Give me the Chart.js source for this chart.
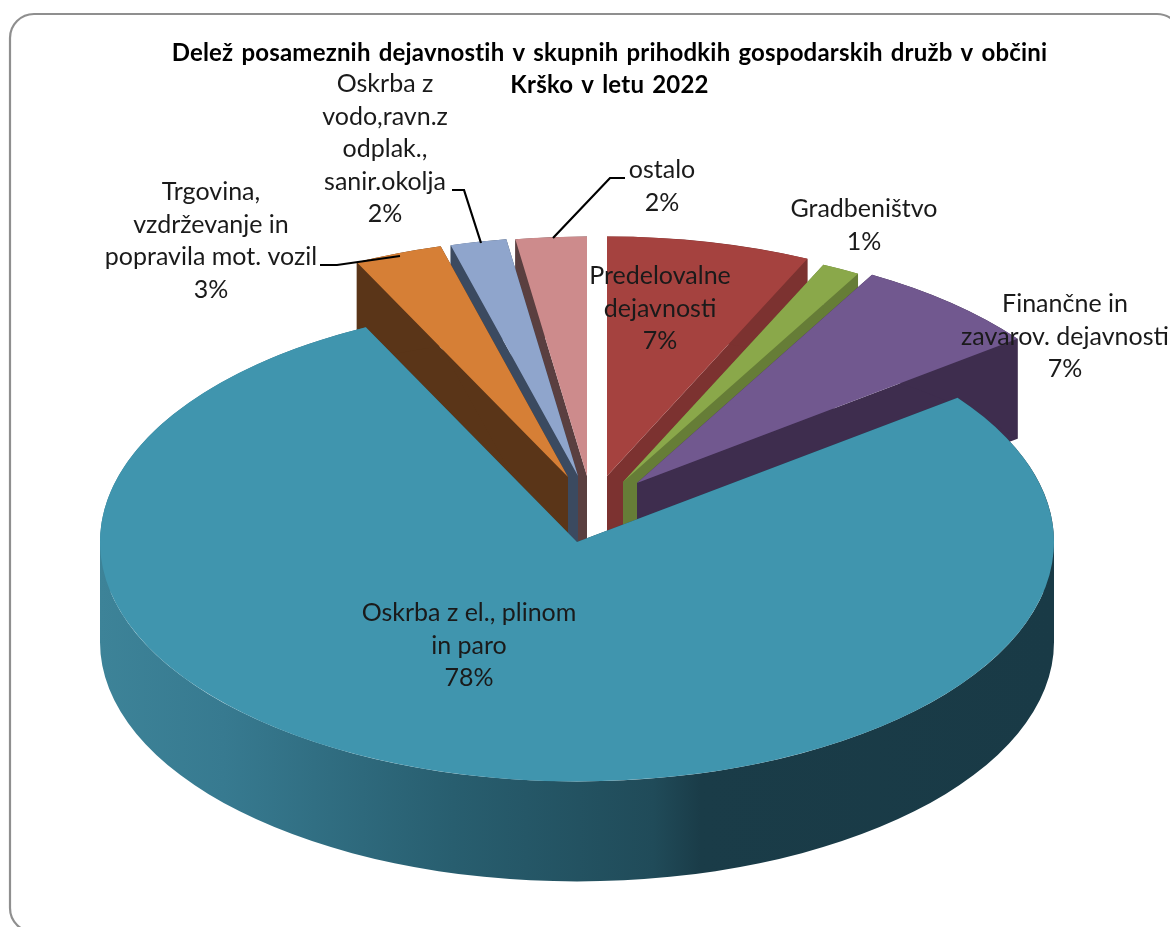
<!DOCTYPE html>
<html><head><meta charset="utf-8">
<style>html,body{margin:0;padding:0;background:#fff}canvas{display:block}</style>
<script src="https://cdn.jsdelivr.net/npm/chart.js@4/dist/chart.umd.min.js"></script>
</head><body>
<canvas id="c" width="1170" height="927"></canvas>
<script>
const categories = ["Predelovalne dejavnosti","Gradbeništvo","Finančne in zavarov. dejavnosti","Oskrba z el., plinom in paro","Trgovina, vzdrževanje in popravila mot. vozil","Oskrba z vodo,ravn.z odplak., sanir.okolja","ostalo"];
const shares = [6.9, 1.3, 6.5, 78.0, 3.0, 1.9, 2.4];
const titleLines = ["Delež posameznih dejavnostih v skupnih prihodkih gospodarskih družb v občini","Krško v letu 2022"];
const labelLines = [["Predelovalne","dejavnosti"],["Gradbeništvo"],["Finančne in","zavarov. dejavnosti"],["Oskrba z el., plinom","in paro"],["Trgovina,","vzdrževanje in","popravila mot. vozil"],["Oskrba z","vodo,ravn.z","odplak.,","sanir.okolja"],["ostalo"]];

/* styling */
const topColors  = ["#a5423f","#8aa84a","#71588f","#4095ae","#d67f36","#8fa5cc","#cd8b8c"];
const wallColors = ["#7c3230","#667d37","#3e2d4e","#2a6070","#5a3518","#3b4a60","#5a3f40"];
const explode = [[29,-66],[45,-60],[59,-59],[-1,0],[-10,-65],[0,-66],[9,-66]];
const paintOrder = [6,5,4,0,1,2,3];
const TILT = 0.502, DEPTH = 100;
const labelBoxes = [[660,276],[864,209],[1065,304],[469,613],[211,192],[385,84],[662,170]];
const leaders = {4:[[320,265],[337,265],[400,256]],5:[[452,190],[464,190],[481,243]],6:[[553,238],[610,178],[625,178]]};

function wall(ctx, arc, i){
  const [dx,dy] = explode[i];
  const cx = arc.x+dx, cy = arc.y+dy, r = arc.outerRadius, ry = r*TILT;
  const a1 = arc.startAngle, a2 = arc.endAngle;
  const px = a => cx+Math.cos(a)*r, py = a => cy+Math.sin(a)*ry;
  let fill = wallColors[i];
  if (i===3){
    const g = ctx.createLinearGradient(cx-r,0,cx+r,0);
    g.addColorStop(0,"#3d8398"); g.addColorStop(0.13,"#377a90");
    g.addColorStop(0.37,"#285e6f"); g.addColorStop(0.58,"#204b59");
    g.addColorStop(0.63,"#1a3c48"); g.addColorStop(1,"#193a46");
    fill = g;
  }
  ctx.fillStyle = fill;
  // radial faces
  [a1,a2].forEach(a=>{
    ctx.beginPath();ctx.moveTo(cx,cy);ctx.lineTo(px(a),py(a));
    ctx.lineTo(px(a),py(a)+DEPTH);ctx.lineTo(cx,cy+DEPTH);ctx.closePath();ctx.fill();
  });
  // outer curved face, split at the ellipse's side extremes so the band stays simple
  const cuts = [a1];
  [0,Math.PI,2*Math.PI].forEach(c=>{ if(c>a1 && c<a2) cuts.push(c); });
  cuts.push(a2);
  for(let k=0;k<cuts.length-1;k++){
    ctx.beginPath();
    ctx.ellipse(cx,cy,r,ry,0,cuts[k],cuts[k+1],false);
    ctx.ellipse(cx,cy+DEPTH,r,ry,0,cuts[k+1],cuts[k],true);
    ctx.closePath();ctx.fill();
  }
}

const pie3d = {
  id:"pie3d",
  beforeDraw(chart){
    const ctx = chart.ctx;
    ctx.save();
    ctx.strokeStyle="#8f8f8f";ctx.lineWidth=2.2;
    ctx.beginPath();ctx.roundRect(10,14,1171,918,24);ctx.stroke();
    ctx.restore();
  },
  beforeDatasetDraw(chart,args){
    const ctx = chart.ctx, arcs = args.meta.data;
    paintOrder.forEach(i=>{
      const arc = arcs[i];
      ctx.save();
      wall(ctx,arc,i);
      ctx.translate(arc.x+explode[i][0],arc.y+explode[i][1]);
      ctx.scale(1,TILT);
      ctx.translate(-arc.x,-arc.y);
      arc.draw(ctx,chart.chartArea);
      ctx.restore();
    });
    return false;
  },
  afterDatasetsDraw(chart){
    const ctx = chart.ctx;
    ctx.save();
    ctx.textAlign="center";ctx.textBaseline="middle";
    ctx.fillStyle="#000";ctx.font="bold 24px Lato";
    ctx.letterSpacing="0.2px";ctx.wordSpacing="2px";
    titleLines.forEach((t,k)=>ctx.fillText(t,609.5,53+k*32));
    ctx.letterSpacing="0px";ctx.wordSpacing="0px";
    ctx.strokeStyle="#000";ctx.lineWidth=2.2;
    Object.values(leaders).forEach(pts=>{
      ctx.beginPath();pts.forEach((p,k)=>k?ctx.lineTo(p[0],p[1]):ctx.moveTo(p[0],p[1]));ctx.stroke();
    });
    ctx.fillStyle="#1a1a1a";ctx.font="25px Lato";
    labelLines.forEach((lines,i)=>{
      const [x,y]=labelBoxes[i];
      [...lines,Math.round(shares[i])+"%"].forEach((t,k)=>ctx.fillText(t,x,y+k*32.5));
    });
    ctx.restore();
  }
};

new Chart(document.getElementById("c"),{
  type:"pie",
  data:{labels:categories,datasets:[{data:shares,backgroundColor:topColors,borderWidth:0,radius:477,clip:false}]},
  options:{
    responsive:false,animation:false,
    layout:{padding:{top:157,right:14}},
    plugins:{legend:{display:false},tooltip:{enabled:false},title:{display:false}}
  },
  plugins:[pie3d]
});
</script>
</body></html>
